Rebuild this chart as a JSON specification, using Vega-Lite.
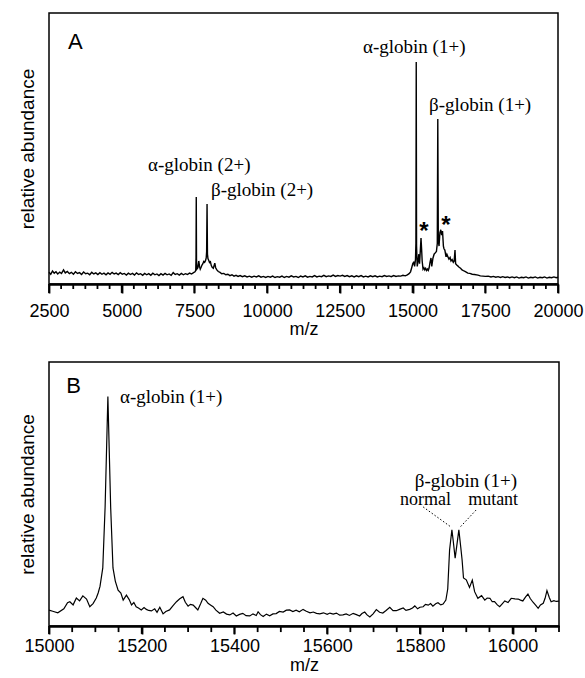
{
  "$schema": "https://vega.github.io/schema/vega-lite/v6.json",
  "padding": {"left": 17, "top": 12, "right": 20, "bottom": 5},
  "spacing": 22,
  "config": {
    "font": "Liberation Sans",
    "view": {"stroke": "black", "strokeWidth": 1.5},
    "axis": {"grid": false, "labelColor": "black", "titleColor": "black", "domainColor": "black", "tickColor": "black", "titleFontWeight": "normal"}
  },
  "datasets": {
    "specA": [
      {"mz":2500,"ab":4.3},{"mz":2560,"ab":3.6},{"mz":2620,"ab":4.8},{"mz":2680,"ab":4.0},{"mz":2740,"ab":4.5},{"mz":2800,"ab":3.7},{"mz":2870,"ab":4.4},{"mz":2930,"ab":3.9},{"mz":3000,"ab":5.2},{"mz":3060,"ab":4.1},{"mz":3130,"ab":4.6},{"mz":3200,"ab":3.8},{"mz":3270,"ab":4.3},{"mz":3340,"ab":3.6},{"mz":3410,"ab":4.5},{"mz":3480,"ab":3.9},{"mz":3550,"ab":4.2},{"mz":3620,"ab":3.5},{"mz":3690,"ab":4.4},{"mz":3760,"ab":3.8},{"mz":3830,"ab":4.0},{"mz":3900,"ab":3.4},{"mz":3970,"ab":4.3},{"mz":4040,"ab":3.7},{"mz":4110,"ab":4.1},{"mz":4180,"ab":3.5},{"mz":4250,"ab":4.2},{"mz":4320,"ab":3.6},{"mz":4390,"ab":4.0},{"mz":4460,"ab":3.4},{"mz":4530,"ab":4.1},{"mz":4600,"ab":3.6},{"mz":4670,"ab":4.3},{"mz":4740,"ab":3.7},{"mz":4810,"ab":4.0},{"mz":4880,"ab":3.5},{"mz":4950,"ab":4.2},{"mz":5020,"ab":3.6},{"mz":5090,"ab":3.9},{"mz":5160,"ab":3.3},{"mz":5230,"ab":4.0},{"mz":5300,"ab":3.5},{"mz":5370,"ab":3.9},{"mz":5440,"ab":3.3},{"mz":5510,"ab":4.1},{"mz":5580,"ab":3.5},{"mz":5650,"ab":3.8},{"mz":5720,"ab":3.2},{"mz":5790,"ab":3.9},{"mz":5860,"ab":3.4},{"mz":5930,"ab":3.8},{"mz":6000,"ab":3.2},{"mz":6070,"ab":4.0},{"mz":6140,"ab":3.4},{"mz":6210,"ab":3.7},{"mz":6280,"ab":3.1},{"mz":6350,"ab":3.8},{"mz":6420,"ab":3.3},{"mz":6490,"ab":3.9},{"mz":6560,"ab":3.4},{"mz":6630,"ab":3.7},{"mz":6700,"ab":3.2},{"mz":6770,"ab":4.2},{"mz":6840,"ab":3.5},{"mz":6910,"ab":3.8},{"mz":6980,"ab":3.3},{"mz":7050,"ab":3.9},{"mz":7120,"ab":3.4},{"mz":7190,"ab":3.8},{"mz":7260,"ab":3.5},{"mz":7330,"ab":4.0},{"mz":7400,"ab":3.7},{"mz":7470,"ab":4.2},{"mz":7520,"ab":4.5},
      {"mz":7545,"ab":5.0},{"mz":7555,"ab":10},{"mz":7563,"ab":32.1},{"mz":7571,"ab":9},{"mz":7585,"ab":5.5},{"mz":7620,"ab":6.0},{"mz":7650,"ab":8.5},{"mz":7675,"ab":6.5},{"mz":7700,"ab":5.5},{"mz":7730,"ab":6.2},{"mz":7760,"ab":7.0},{"mz":7790,"ab":7.5},{"mz":7820,"ab":8.3},{"mz":7850,"ab":8.0},{"mz":7880,"ab":8.6},{"mz":7905,"ab":9.6},{"mz":7920,"ab":12},{"mz":7934,"ab":29.5},{"mz":7948,"ab":11},{"mz":7965,"ab":9.4},{"mz":7990,"ab":8.8},{"mz":8020,"ab":7.9},{"mz":8050,"ab":8.2},{"mz":8080,"ab":6.8},{"mz":8110,"ab":6.2},{"mz":8150,"ab":5.8},{"mz":8200,"ab":7.7},{"mz":8230,"ab":6.0},{"mz":8270,"ab":5.2},{"mz":8320,"ab":4.6},{"mz":8380,"ab":4.3},{"mz":8440,"ab":3.8},{"mz":8510,"ab":3.9},{"mz":8580,"ab":3.4},{"mz":8650,"ab":3.6},{"mz":8720,"ab":3.1},{"mz":8790,"ab":3.4},{"mz":8860,"ab":2.9},{"mz":8930,"ab":3.2},{"mz":9000,"ab":2.8},
      {"mz":9070,"ab":3.1},{"mz":9150,"ab":2.7},{"mz":9230,"ab":3.0},{"mz":9310,"ab":2.6},{"mz":9390,"ab":2.9},{"mz":9470,"ab":2.5},{"mz":9550,"ab":2.9},{"mz":9630,"ab":2.6},{"mz":9710,"ab":3.0},{"mz":9790,"ab":2.5},{"mz":9870,"ab":2.8},{"mz":9950,"ab":2.4},{"mz":10030,"ab":2.8},{"mz":10110,"ab":2.5},{"mz":10190,"ab":2.9},{"mz":10270,"ab":2.4},{"mz":10350,"ab":2.7},{"mz":10430,"ab":2.5},{"mz":10510,"ab":2.9},{"mz":10590,"ab":2.4},{"mz":10670,"ab":2.8},{"mz":10750,"ab":2.5},{"mz":10830,"ab":3.0},{"mz":10910,"ab":2.6},{"mz":10990,"ab":2.8},{"mz":11070,"ab":2.4},{"mz":11150,"ab":2.9},{"mz":11230,"ab":2.6},{"mz":11310,"ab":3.0},{"mz":11390,"ab":2.5},{"mz":11470,"ab":2.8},{"mz":11550,"ab":2.6},{"mz":11630,"ab":3.1},{"mz":11710,"ab":2.6},{"mz":11790,"ab":2.9},{"mz":11870,"ab":2.7},{"mz":11950,"ab":3.2},{"mz":12030,"ab":2.7},{"mz":12110,"ab":3.0},{"mz":12190,"ab":2.8},{"mz":12270,"ab":3.3},{"mz":12350,"ab":2.8},{"mz":12430,"ab":3.1},{"mz":12510,"ab":2.9},{"mz":12590,"ab":3.2},{"mz":12670,"ab":2.8},{"mz":12750,"ab":3.1},{"mz":12830,"ab":2.7},{"mz":12910,"ab":3.0},{"mz":12990,"ab":2.6},{"mz":13070,"ab":3.0},{"mz":13150,"ab":2.7},{"mz":13230,"ab":3.1},{"mz":13310,"ab":2.6},{"mz":13390,"ab":2.9},{"mz":13470,"ab":2.6},{"mz":13550,"ab":3.0},{"mz":13630,"ab":2.7},{"mz":13710,"ab":3.0},{"mz":13790,"ab":2.6},{"mz":13870,"ab":2.9},{"mz":13950,"ab":2.7},{"mz":14030,"ab":3.1},{"mz":14110,"ab":2.8},{"mz":14190,"ab":3.0},{"mz":14270,"ab":2.7},{"mz":14350,"ab":3.1},{"mz":14430,"ab":2.8},{"mz":14510,"ab":3.0},{"mz":14590,"ab":2.9},{"mz":14670,"ab":3.2},{"mz":14750,"ab":3.0},{"mz":14820,"ab":3.4},{"mz":14880,"ab":3.8},{"mz":14930,"ab":4.5},
      {"mz":14970,"ab":6.0},{"mz":15010,"ab":7.6},{"mz":15040,"ab":8.0},{"mz":15070,"ab":6.5},{"mz":15100,"ab":9},{"mz":15115,"ab":15},{"mz":15126,"ab":81.9},{"mz":15137,"ab":14},{"mz":15160,"ab":6.5},{"mz":15190,"ab":8.5},{"mz":15215,"ab":11},{"mz":15240,"ab":7.5},{"mz":15265,"ab":12},{"mz":15290,"ab":17},{"mz":15310,"ab":13},{"mz":15330,"ab":8.5},{"mz":15360,"ab":5.5},{"mz":15390,"ab":6.0},{"mz":15420,"ab":5.2},{"mz":15450,"ab":5.8},{"mz":15480,"ab":5.0},{"mz":15510,"ab":5.5},{"mz":15540,"ab":5.0},{"mz":15570,"ab":6.0},{"mz":15600,"ab":8.0},{"mz":15633,"ab":9.6},{"mz":15660,"ab":6.5},{"mz":15700,"ab":9.5},{"mz":15740,"ab":11},{"mz":15780,"ab":11.5},{"mz":15820,"ab":12},{"mz":15850,"ab":15},{"mz":15867,"ab":60.9},{"mz":15885,"ab":16},{"mz":15910,"ab":14},{"mz":15940,"ab":19},{"mz":15970,"ab":20},{"mz":16000,"ab":18},{"mz":16030,"ab":19.5},{"mz":16060,"ab":14},{"mz":16080,"ab":13},{"mz":16110,"ab":12.5},{"mz":16150,"ab":10},{"mz":16180,"ab":11},{"mz":16218,"ab":10},{"mz":16250,"ab":9.2},{"mz":16290,"ab":9.8},{"mz":16321,"ab":8.5},{"mz":16360,"ab":9},{"mz":16400,"ab":8},{"mz":16430,"ab":8.5},{"mz":16459,"ab":12.5},{"mz":16480,"ab":7.5},{"mz":16520,"ab":7.0},{"mz":16562,"ab":6.6},{"mz":16600,"ab":6.2},{"mz":16650,"ab":5.8},{"mz":16700,"ab":5.2},{"mz":16768,"ab":4.8},{"mz":16830,"ab":4.5},{"mz":16900,"ab":4.0},{"mz":16970,"ab":3.9},{"mz":17050,"ab":3.6},{"mz":17130,"ab":3.5},{"mz":17250,"ab":3.3},{"mz":17330,"ab":3.0},{"mz":17420,"ab":2.9},{"mz":17500,"ab":2.8},{"mz":17600,"ab":2.9},{"mz":17696,"ab":2.6},{"mz":17780,"ab":2.8},{"mz":17860,"ab":2.5},{"mz":17940,"ab":2.7},{"mz":18020,"ab":2.4},{"mz":18100,"ab":2.7},{"mz":18180,"ab":2.4},{"mz":18260,"ab":2.6},{"mz":18340,"ab":2.3},{"mz":18420,"ab":2.6},{"mz":18500,"ab":2.3},{"mz":18580,"ab":2.6},{"mz":18660,"ab":2.2},{"mz":18740,"ab":2.5},{"mz":18820,"ab":2.3},{"mz":18900,"ab":2.6},{"mz":18980,"ab":2.2},{"mz":19060,"ab":2.5},{"mz":19140,"ab":2.3},{"mz":19220,"ab":2.6},{"mz":19300,"ab":2.2},{"mz":19380,"ab":2.5},{"mz":19460,"ab":2.3},{"mz":19540,"ab":2.6},{"mz":19620,"ab":2.2},{"mz":19700,"ab":2.5},{"mz":19780,"ab":2.3},{"mz":19860,"ab":2.6},{"mz":19940,"ab":2.3},{"mz":20000,"ab":2.5}
    ],
    "specB": [
      {"mz":15000,"ab":6.0},{"mz":15008,"ab":5.6},{"mz":15019,"ab":5.0},{"mz":15032,"ab":6.5},{"mz":15040,"ab":8.8},{"mz":15045,"ab":9.2},{"mz":15052,"ab":8.0},{"mz":15059,"ab":10.6},{"mz":15066,"ab":9.5},{"mz":15073,"ab":11.4},{"mz":15081,"ab":10.2},{"mz":15088,"ab":7.3},{"mz":15095,"ab":8.5},{"mz":15102,"ab":10.6},{"mz":15106,"ab":12.5},{"mz":15110,"ab":15},{"mz":15116,"ab":22},{"mz":15121,"ab":45},{"mz":15127,"ab":86.9},{"mz":15133,"ab":45},{"mz":15138,"ab":22},{"mz":15143,"ab":17},{"mz":15149,"ab":13.6},{"mz":15155,"ab":12.5},{"mz":15160,"ab":9.8},{"mz":15167,"ab":11.7},{"mz":15173,"ab":10},{"mz":15178,"ab":8.0},{"mz":15183,"ab":8.9},{"mz":15188,"ab":7.3},{"mz":15193,"ab":6.8},{"mz":15199,"ab":6.1},{"mz":15205,"ab":7.0},{"mz":15210,"ab":6.3},{"mz":15215,"ab":5.9},{"mz":15221,"ab":5.7},{"mz":15228,"ab":6.5},{"mz":15233,"ab":5.2},{"mz":15239,"ab":7.1},{"mz":15246,"ab":4.6},{"mz":15252,"ab":5.5},{"mz":15260,"ab":6.1},{"mz":15268,"ab":7.8},{"mz":15275,"ab":9.2},{"mz":15282,"ab":10.3},{"mz":15289,"ab":11.1},{"mz":15294,"ab":9.0},{"mz":15300,"ab":7.5},{"mz":15305,"ab":8.2},{"mz":15311,"ab":7.9},{"mz":15316,"ab":7.0},{"mz":15321,"ab":6.1},{"mz":15327,"ab":8.4},{"mz":15332,"ab":10.5},{"mz":15338,"ab":9.8},{"mz":15343,"ab":8.6},{"mz":15349,"ab":7.9},{"mz":15354,"ab":7.3},{"mz":15360,"ab":6.0},{"mz":15368,"ab":4.8},{"mz":15376,"ab":5.3},{"mz":15383,"ab":4.5},{"mz":15390,"ab":4.2},{"mz":15397,"ab":4.9},{"mz":15404,"ab":3.8},{"mz":15411,"ab":4.4},{"mz":15418,"ab":4.8},{"mz":15425,"ab":3.9},{"mz":15433,"ab":3.8},{"mz":15440,"ab":4.6},{"mz":15447,"ab":4.0},{"mz":15451,"ab":5.4},{"mz":15456,"ab":4.3},{"mz":15462,"ab":3.6},{"mz":15469,"ab":4.5},{"mz":15476,"ab":3.9},{"mz":15483,"ab":4.6},{"mz":15490,"ab":4.7},{"mz":15497,"ab":5.5},{"mz":15505,"ab":5.3},{"mz":15512,"ab":6.0},{"mz":15519,"ab":6.1},{"mz":15526,"ab":5.5},{"mz":15533,"ab":6.0},{"mz":15540,"ab":5.4},{"mz":15548,"ab":6.3},{"mz":15555,"ab":5.6},{"mz":15563,"ab":5.0},{"mz":15570,"ab":5.3},{"mz":15577,"ab":4.8},{"mz":15584,"ab":4.6},{"mz":15592,"ab":5.0},{"mz":15600,"ab":4.4},{"mz":15606,"ab":4.9},{"mz":15613,"ab":4.5},{"mz":15620,"ab":4.9},{"mz":15627,"ab":4.1},{"mz":15634,"ab":4.2},{"mz":15641,"ab":4.6},{"mz":15648,"ab":4.0},{"mz":15656,"ab":4.8},{"mz":15663,"ab":4.3},{"mz":15670,"ab":3.8},{"mz":15675,"ab":4.7},{"mz":15681,"ab":5.3},{"mz":15686,"ab":4.2},{"mz":15692,"ab":3.4},{"mz":15699,"ab":4.6},{"mz":15706,"ab":6.2},{"mz":15713,"ab":5.2},{"mz":15720,"ab":4.9},{"mz":15727,"ab":5.9},{"mz":15735,"ab":7.1},{"mz":15742,"ab":5.8},{"mz":15749,"ab":5.8},{"mz":15756,"ab":6.3},{"mz":15764,"ab":6.8},{"mz":15770,"ab":5.9},{"mz":15778,"ab":6.3},{"mz":15784,"ab":6.8},{"mz":15789,"ab":7.6},{"mz":15795,"ab":6.5},{"mz":15800,"ab":7.1},{"mz":15807,"ab":7.3},{"mz":15812,"ab":8.2},{"mz":15818,"ab":7.9},{"mz":15823,"ab":8.5},{"mz":15828,"ab":7.5},{"mz":15834,"ab":8.4},{"mz":15839,"ab":8.8},{"mz":15845,"ab":8.0},{"mz":15850,"ab":8.3},{"mz":15856,"ab":9.8},{"mz":15860,"ab":14},{"mz":15864,"ab":28.8},{"mz":15869,"ab":36.4},{"mz":15872,"ab":32},{"mz":15876,"ab":25.7},{"mz":15880,"ab":31},{"mz":15884,"ab":36.4},{"mz":15888,"ab":30},{"mz":15891,"ab":25},{"mz":15894,"ab":18.2},{"mz":15900,"ab":17.5},{"mz":15907,"ab":14.6},{"mz":15913,"ab":17.4},{"mz":15918,"ab":13.0},{"mz":15925,"ab":10.5},{"mz":15933,"ab":11.5},{"mz":15940,"ab":9.8},{"mz":15945,"ab":10.6},{"mz":15951,"ab":10.5},{"mz":15956,"ab":9.2},{"mz":15961,"ab":9.2},{"mz":15967,"ab":8.0},{"mz":15972,"ab":7.3},{"mz":15978,"ab":8.5},{"mz":15983,"ab":9.5},{"mz":15990,"ab":8.9},{"mz":15997,"ab":10.5},{"mz":16005,"ab":10.3},{"mz":16012,"ab":10.2},{"mz":16017,"ab":9.8},{"mz":16022,"ab":9.5},{"mz":16028,"ab":11.0},{"mz":16033,"ab":12.1},{"mz":16038,"ab":10.4},{"mz":16044,"ab":9.0},{"mz":16050,"ab":7.8},{"mz":16055,"ab":6.7},{"mz":16060,"ab":8.0},{"mz":16066,"ab":8.6},{"mz":16070,"ab":10.5},{"mz":16074,"ab":13.4},{"mz":16079,"ab":10.8},{"mz":16083,"ab":9.2},{"mz":16089,"ab":9.6},{"mz":16094,"ab":9.3},{"mz":16100,"ab":9.4}
    ],
    "labA": [
      {"t":"α-globin (2+)","mz":5904,"ab":41.7},
      {"t":"β-globin (2+)","mz":8070,"ab":32.5},
      {"t":"α-globin (1+)","mz":13296,"ab":85.2},
      {"t":"β-globin (1+)","mz":15565,"ab":63.8}
    ],
    "starA": [
      {"t":"*","mz":15393,"ab":16.5},
      {"t":"*","mz":16149,"ab":18.8}
    ],
    "panA": [{"t":"A","mz":3153,"ab":86.7}],
    "majA": [{"mz":2500},{"mz":5000},{"mz":7500},{"mz":10000},{"mz":12500},{"mz":15000},{"mz":17500},{"mz":20000}],
    "minA": [{"mz":2916.667},{"mz":3333.333},{"mz":3750},{"mz":4166.667},{"mz":4583.333},{"mz":5416.667},{"mz":5833.333},{"mz":6250},{"mz":6666.667},{"mz":7083.333},{"mz":7916.667},{"mz":8333.333},{"mz":8750},{"mz":9166.667},{"mz":9583.333},{"mz":10416.667},{"mz":10833.333},{"mz":11250},{"mz":11666.667},{"mz":12083.333},{"mz":12916.667},{"mz":13333.333},{"mz":13750},{"mz":14166.667},{"mz":14583.333},{"mz":15416.667},{"mz":15833.333},{"mz":16250},{"mz":16666.667},{"mz":17083.333},{"mz":17916.667},{"mz":18333.333},{"mz":18750},{"mz":19166.667},{"mz":19583.333}],
    "labB": [
      {"t":"α-globin (1+)","mz":15153,"ab":84.5,"s":19},
      {"t":"β-globin (1+)","mz":15789,"ab":52.7,"s":19},
      {"t":"normal","mz":15757,"ab":45.8,"s":18},
      {"t":"mutant","mz":15904,"ab":45.8,"s":18}
    ],
    "panB": [{"t":"B","mz":15037,"ab":88.3}],
    "dotB": [
      {"mz1":15807,"ab1":45.1,"mz2":15867,"ab2":37.5},
      {"mz1":15921,"ab1":43.9,"mz2":15887,"ab2":37.5}
    ],
    "majB": [{"mz":15000},{"mz":15200},{"mz":15400},{"mz":15600},{"mz":15800},{"mz":16000}],
    "minB": [{"mz":15050},{"mz":15100},{"mz":15150},{"mz":15250},{"mz":15300},{"mz":15350},{"mz":15450},{"mz":15500},{"mz":15550},{"mz":15650},{"mz":15700},{"mz":15750},{"mz":15850},{"mz":15900},{"mz":15950},{"mz":16050},{"mz":16100}]
  },
  "vconcat": [
    {
      "width": 509,
      "height": 271,
      "resolve": {"axis": {"x": "independent"}},
      "layer": [
        {
          "data": {"name": "specA"},
          "mark": {"type": "line", "color": "black", "strokeWidth": 1.4},
          "encoding": {
            "x": {"field": "mz", "type": "quantitative", "scale": {"nice": false, "zero": false},
              "axis": {
                "orient": "bottom",
                "title": "m/z", "titleFontSize": 18, "titlePadding": 0,
                "values": [2500, 5000, 7500, 10000, 12500, 15000, 17500, 20000],
                "format": "d",
                "labelOverlap": false, "labelFlush": false, "labelFontSize": 18, "labelPadding": 9,
                "domainWidth": 2.5,
                "tickColor": "black", "tickWidth": 1.8, "tickSize": 9
              }},
            "y": {"field": "ab", "type": "quantitative", "scale": {"domain": [0, 100], "nice": false},
              "axis": {"title": "relative abundance", "titleFontSize": 19, "labels": false, "ticks": false, "domain": false, "titlePadding": 12}}
          }
        },
        {
          "data": {"name": "majA"},
          "mark": {"type": "rule", "color": "black", "strokeWidth": 1.8},
          "encoding": {"x": {"field": "mz", "type": "quantitative", "axis": null}, "y": {"datum": 0, "type": "quantitative"}, "y2": {"datum": -3.3}}
        },
        {
          "data": {"name": "minA"},
          "mark": {"type": "rule", "color": "black", "strokeWidth": 1.8},
          "encoding": {"x": {"field": "mz", "type": "quantitative", "axis": null}, "y": {"datum": 0, "type": "quantitative"}, "y2": {"datum": -1.85}}
        },
        {
          "data": {"name": "labA"},
          "mark": {"type": "text", "font": "Liberation Serif", "fontSize": 19, "align": "left", "baseline": "alphabetic", "color": "black"},
          "encoding": {"x": {"field": "mz", "type": "quantitative", "axis": null}, "y": {"field": "ab", "type": "quantitative"}, "text": {"field": "t"}}
        },
        {
          "data": {"name": "starA"},
          "mark": {"type": "text", "fontSize": 24, "fontWeight": "bold", "align": "center", "baseline": "alphabetic", "color": "black"},
          "encoding": {"x": {"field": "mz", "type": "quantitative", "axis": null}, "y": {"field": "ab", "type": "quantitative"}, "text": {"field": "t"}}
        },
        {
          "data": {"name": "panA"},
          "mark": {"type": "text", "fontSize": 22, "align": "left", "baseline": "alphabetic", "color": "black"},
          "encoding": {"x": {"field": "mz", "type": "quantitative", "axis": null}, "y": {"field": "ab", "type": "quantitative"}, "text": {"field": "t"}}
        }
      ]
    },
    {
      "width": 510,
      "height": 264,
      "resolve": {"axis": {"x": "independent"}},
      "layer": [
        {
          "data": {"name": "specB"},
          "mark": {"type": "line", "color": "black", "strokeWidth": 1.2},
          "encoding": {
            "x": {"field": "mz", "type": "quantitative", "scale": {"domain": [15000, 16100]},
              "axis": {
                "orient": "bottom",
                "title": "m/z", "titleFontSize": 18, "titlePadding": 1,
                "values": [15000, 15200, 15400, 15600, 15800, 16000],
                "format": "d",
                "labelOverlap": false, "labelFlush": false, "labelFontSize": 18, "labelPadding": 3,
                "domainWidth": 2.5,
                "tickColor": "black", "tickWidth": 1.8, "tickSize": 8
              }},
            "y": {"field": "ab", "type": "quantitative", "scale": {"domain": [0, 100], "nice": false},
              "axis": {"title": "relative abundance", "titleFontSize": 19, "labels": false, "ticks": false, "domain": false, "titlePadding": 12}}
          }
        },
        {
          "data": {"name": "majB"},
          "mark": {"type": "rule", "color": "black", "strokeWidth": 1.8},
          "encoding": {"x": {"field": "mz", "type": "quantitative", "axis": null}, "y": {"datum": 0, "type": "quantitative"}, "y2": {"datum": -3.0}}
        },
        {
          "data": {"name": "minB"},
          "mark": {"type": "rule", "color": "black", "strokeWidth": 1.8},
          "encoding": {"x": {"field": "mz", "type": "quantitative", "axis": null}, "y": {"datum": 0, "type": "quantitative"}, "y2": {"datum": -2.3}}
        },
        {
          "data": {"name": "labB"},
          "mark": {"type": "text", "font": "Liberation Serif", "align": "left", "baseline": "alphabetic", "color": "black"},
          "encoding": {
            "x": {"field": "mz", "type": "quantitative", "axis": null},
            "y": {"field": "ab", "type": "quantitative"},
            "text": {"field": "t"},
            "size": {"field": "s", "type": "quantitative", "scale": null}
          }
        },
        {
          "data": {"name": "dotB"},
          "mark": {"type": "rule", "color": "black", "strokeWidth": 1, "strokeDash": [1.5, 2]},
          "encoding": {"x": {"field": "mz1", "type": "quantitative", "axis": null}, "y": {"field": "ab1", "type": "quantitative"}, "x2": {"field": "mz2"}, "y2": {"field": "ab2"}}
        },
        {
          "data": {"name": "panB"},
          "mark": {"type": "text", "fontSize": 22, "align": "left", "baseline": "alphabetic", "color": "black"},
          "encoding": {"x": {"field": "mz", "type": "quantitative", "axis": null}, "y": {"field": "ab", "type": "quantitative"}, "text": {"field": "t"}}
        }
      ]
    }
  ]
}
